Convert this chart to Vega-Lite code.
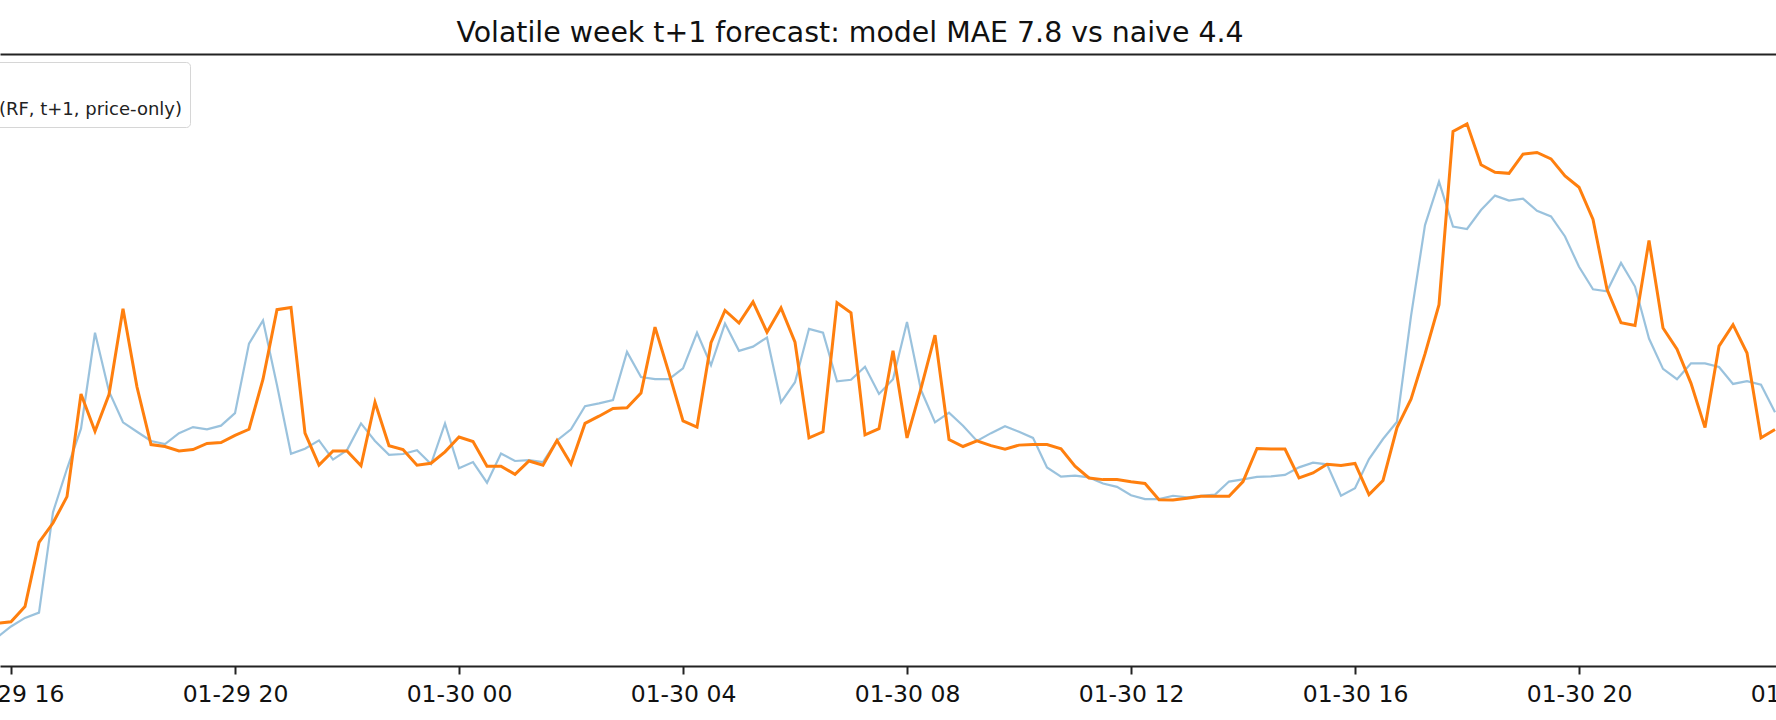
{
  "$schema": "https://vega.github.io/schema/vega-lite/v6.json",
  "autosize": {"type": "none"},
  "width": 1900,
  "height": 612,
  "padding": {"left": 0, "top": 54, "right": 0, "bottom": 54},
  "title": {
    "text": "Volatile week t+1 forecast: model MAE 7.8 vs naive 4.4",
    "font": "DejaVu Sans",
    "fontSize": 28.4,
    "fontWeight": "normal",
    "color": "#111111",
    "anchor": "middle",
    "dx": -100,
    "offset": 6
  },
  "config": {
    "view": {"stroke": null},
    "font": "DejaVu Sans"
  },
  "data": {
    "values": [
      {"t": "2024-01-29T15:45", "actual": 10.3, "forecast": 15.3},
      {"t": "2024-01-29T16:00", "actual": 14.2, "forecast": 15.9},
      {"t": "2024-01-29T16:15", "actual": 17.3, "forecast": 21.4},
      {"t": "2024-01-29T16:30", "actual": 19.2, "forecast": 44.4},
      {"t": "2024-01-29T16:45", "actual": 55.3, "forecast": 51.4},
      {"t": "2024-01-29T17:00", "actual": 70.9, "forecast": 60.9},
      {"t": "2024-01-29T17:15", "actual": 85.3, "forecast": 97.8},
      {"t": "2024-01-29T17:30", "actual": 119.8, "forecast": 84.4},
      {"t": "2024-01-29T17:45", "actual": 98.7, "forecast": 97.6},
      {"t": "2024-01-29T18:00", "actual": 87.6, "forecast": 128.4},
      {"t": "2024-01-29T18:15", "actual": 84.2, "forecast": 100.3},
      {"t": "2024-01-29T18:30", "actual": 80.9, "forecast": 79.6},
      {"t": "2024-01-29T18:45", "actual": 79.8, "forecast": 78.9},
      {"t": "2024-01-29T19:00", "actual": 83.7, "forecast": 77.3},
      {"t": "2024-01-29T19:15", "actual": 85.9, "forecast": 77.8},
      {"t": "2024-01-29T19:30", "actual": 85.1, "forecast": 80.0},
      {"t": "2024-01-29T19:45", "actual": 86.4, "forecast": 80.3},
      {"t": "2024-01-29T20:00", "actual": 90.9, "forecast": 82.9},
      {"t": "2024-01-29T20:15", "actual": 115.9, "forecast": 85.1},
      {"t": "2024-01-29T20:30", "actual": 124.2, "forecast": 103.1},
      {"t": "2024-01-29T20:45", "actual": 100.9, "forecast": 128.1},
      {"t": "2024-01-29T21:00", "actual": 76.3, "forecast": 128.9},
      {"t": "2024-01-29T21:15", "actual": 78.1, "forecast": 83.7},
      {"t": "2024-01-29T21:30", "actual": 81.1, "forecast": 72.2},
      {"t": "2024-01-29T21:45", "actual": 74.2, "forecast": 77.3},
      {"t": "2024-01-29T22:00", "actual": 77.6, "forecast": 77.3},
      {"t": "2024-01-29T22:15", "actual": 87.2, "forecast": 72.0},
      {"t": "2024-01-29T22:30", "actual": 80.9, "forecast": 94.8},
      {"t": "2024-01-29T22:45", "actual": 75.9, "forecast": 79.2},
      {"t": "2024-01-29T23:00", "actual": 76.2, "forecast": 77.8},
      {"t": "2024-01-29T23:15", "actual": 77.6, "forecast": 72.2},
      {"t": "2024-01-29T23:30", "actual": 72.6, "forecast": 72.9},
      {"t": "2024-01-29T23:45", "actual": 87.2, "forecast": 77.0},
      {"t": "2024-01-30T00:00", "actual": 71.1, "forecast": 82.3},
      {"t": "2024-01-30T00:15", "actual": 73.3, "forecast": 80.7},
      {"t": "2024-01-30T00:30", "actual": 65.9, "forecast": 71.8},
      {"t": "2024-01-30T00:45", "actual": 76.4, "forecast": 71.8},
      {"t": "2024-01-30T01:00", "actual": 73.7, "forecast": 68.9},
      {"t": "2024-01-30T01:15", "actual": 74.0, "forecast": 73.7},
      {"t": "2024-01-30T01:30", "actual": 73.3, "forecast": 72.2},
      {"t": "2024-01-30T01:45", "actual": 81.1, "forecast": 81.1},
      {"t": "2024-01-30T02:00", "actual": 85.1, "forecast": 72.6},
      {"t": "2024-01-30T02:15", "actual": 93.4, "forecast": 87.2},
      {"t": "2024-01-30T02:30", "actual": 94.4, "forecast": 89.8},
      {"t": "2024-01-30T02:45", "actual": 95.6, "forecast": 92.6},
      {"t": "2024-01-30T03:00", "actual": 112.9, "forecast": 92.8},
      {"t": "2024-01-30T03:15", "actual": 103.9, "forecast": 98.1},
      {"t": "2024-01-30T03:30", "actual": 103.1, "forecast": 121.8},
      {"t": "2024-01-30T03:45", "actual": 103.1, "forecast": 105.3},
      {"t": "2024-01-30T04:00", "actual": 107.0, "forecast": 88.1},
      {"t": "2024-01-30T04:15", "actual": 119.8, "forecast": 85.9},
      {"t": "2024-01-30T04:30", "actual": 108.1, "forecast": 116.2},
      {"t": "2024-01-30T04:45", "actual": 123.1, "forecast": 127.8},
      {"t": "2024-01-30T05:00", "actual": 113.3, "forecast": 123.3},
      {"t": "2024-01-30T05:15", "actual": 114.8, "forecast": 130.9},
      {"t": "2024-01-30T05:30", "actual": 118.1, "forecast": 120.0},
      {"t": "2024-01-30T05:45", "actual": 94.8, "forecast": 128.7},
      {"t": "2024-01-30T06:00", "actual": 102.0, "forecast": 116.4},
      {"t": "2024-01-30T06:15", "actual": 121.2, "forecast": 82.0},
      {"t": "2024-01-30T06:30", "actual": 119.8, "forecast": 84.2},
      {"t": "2024-01-30T06:45", "actual": 102.3, "forecast": 130.6},
      {"t": "2024-01-30T07:00", "actual": 102.9, "forecast": 127.0},
      {"t": "2024-01-30T07:15", "actual": 107.6, "forecast": 83.1},
      {"t": "2024-01-30T07:30", "actual": 97.8, "forecast": 85.3},
      {"t": "2024-01-30T07:45", "actual": 103.1, "forecast": 113.3},
      {"t": "2024-01-30T08:00", "actual": 123.7, "forecast": 82.0},
      {"t": "2024-01-30T08:15", "actual": 99.2, "forecast": 99.8},
      {"t": "2024-01-30T08:30", "actual": 87.6, "forecast": 118.9},
      {"t": "2024-01-30T08:45", "actual": 91.1, "forecast": 81.4},
      {"t": "2024-01-30T09:00", "actual": 86.4, "forecast": 78.9},
      {"t": "2024-01-30T09:15", "actual": 80.9, "forecast": 80.9},
      {"t": "2024-01-30T09:30", "actual": 83.7, "forecast": 79.2},
      {"t": "2024-01-30T09:45", "actual": 86.2, "forecast": 77.9},
      {"t": "2024-01-30T10:00", "actual": 84.2, "forecast": 79.4},
      {"t": "2024-01-30T10:15", "actual": 82.0, "forecast": 79.6},
      {"t": "2024-01-30T10:30", "actual": 71.4, "forecast": 79.6},
      {"t": "2024-01-30T10:45", "actual": 68.1, "forecast": 78.1},
      {"t": "2024-01-30T11:00", "actual": 68.4, "forecast": 71.8},
      {"t": "2024-01-30T11:15", "actual": 67.8, "forecast": 67.6},
      {"t": "2024-01-30T11:30", "actual": 65.6, "forecast": 67.0},
      {"t": "2024-01-30T11:45", "actual": 64.4, "forecast": 67.0},
      {"t": "2024-01-30T12:00", "actual": 61.4, "forecast": 66.2},
      {"t": "2024-01-30T12:15", "actual": 60.0, "forecast": 65.6},
      {"t": "2024-01-30T12:30", "actual": 60.0, "forecast": 59.8},
      {"t": "2024-01-30T12:45", "actual": 61.2, "forecast": 59.7},
      {"t": "2024-01-30T13:00", "actual": 60.6, "forecast": 60.3},
      {"t": "2024-01-30T13:15", "actual": 61.2, "forecast": 61.0},
      {"t": "2024-01-30T13:30", "actual": 61.6, "forecast": 61.0},
      {"t": "2024-01-30T13:45", "actual": 66.3, "forecast": 61.0},
      {"t": "2024-01-30T14:00", "actual": 67.1, "forecast": 66.3},
      {"t": "2024-01-30T14:15", "actual": 68.0, "forecast": 78.2},
      {"t": "2024-01-30T14:30", "actual": 68.2, "forecast": 78.0},
      {"t": "2024-01-30T14:45", "actual": 68.7, "forecast": 78.0},
      {"t": "2024-01-30T15:00", "actual": 71.4, "forecast": 67.6},
      {"t": "2024-01-30T15:15", "actual": 73.1, "forecast": 69.4},
      {"t": "2024-01-30T15:30", "actual": 72.5, "forecast": 72.5},
      {"t": "2024-01-30T15:45", "actual": 61.2, "forecast": 72.1},
      {"t": "2024-01-30T16:00", "actual": 63.9, "forecast": 72.8},
      {"t": "2024-01-30T16:15", "actual": 74.4, "forecast": 61.6},
      {"t": "2024-01-30T16:30", "actual": 81.6, "forecast": 66.7},
      {"t": "2024-01-30T16:45", "actual": 87.8, "forecast": 85.7},
      {"t": "2024-01-30T17:00", "actual": 125.8, "forecast": 95.9},
      {"t": "2024-01-30T17:15", "actual": 158.5, "forecast": 112.2},
      {"t": "2024-01-30T17:30", "actual": 174.1, "forecast": 129.9},
      {"t": "2024-01-30T17:45", "actual": 158.0, "forecast": 192.2},
      {"t": "2024-01-30T18:00", "actual": 157.1, "forecast": 194.9},
      {"t": "2024-01-30T18:15", "actual": 163.9, "forecast": 180.2},
      {"t": "2024-01-30T18:30", "actual": 169.1, "forecast": 177.5},
      {"t": "2024-01-30T18:45", "actual": 167.3, "forecast": 177.1},
      {"t": "2024-01-30T19:00", "actual": 168.0, "forecast": 184.0},
      {"t": "2024-01-30T19:15", "actual": 163.6, "forecast": 184.6},
      {"t": "2024-01-30T19:30", "actual": 161.6, "forecast": 182.3},
      {"t": "2024-01-30T19:45", "actual": 154.4, "forecast": 176.2},
      {"t": "2024-01-30T20:00", "actual": 143.5, "forecast": 172.1},
      {"t": "2024-01-30T20:15", "actual": 135.4, "forecast": 160.5},
      {"t": "2024-01-30T20:30", "actual": 134.7, "forecast": 135.4},
      {"t": "2024-01-30T20:45", "actual": 144.9, "forecast": 123.4},
      {"t": "2024-01-30T21:00", "actual": 136.4, "forecast": 122.4},
      {"t": "2024-01-30T21:15", "actual": 117.7, "forecast": 153.0},
      {"t": "2024-01-30T21:30", "actual": 106.8, "forecast": 121.5},
      {"t": "2024-01-30T21:45", "actual": 103.1, "forecast": 113.9},
      {"t": "2024-01-30T22:00", "actual": 108.8, "forecast": 101.6},
      {"t": "2024-01-30T22:15", "actual": 108.8, "forecast": 85.7},
      {"t": "2024-01-30T22:30", "actual": 107.5, "forecast": 115.0},
      {"t": "2024-01-30T22:45", "actual": 101.4, "forecast": 122.7},
      {"t": "2024-01-30T23:00", "actual": 102.4, "forecast": 112.5},
      {"t": "2024-01-30T23:15", "actual": 101.1, "forecast": 82.0},
      {"t": "2024-01-30T23:30", "actual": 91.2, "forecast": 85.0}
    ]
  },
  "layer": [
    {
      "mark": {"type": "line", "clip": true, "color": "#1f77b4", "opacity": 0.45, "strokeWidth": 2.2},
      "encoding": {
        "x": {
          "field": "t",
          "type": "temporal",
          "scale": {"domain": [{"year": 2024, "month": 1, "date": 29, "hours": 15, "minutes": 48, "seconds": 13}, {"year": 2024, "month": 1, "date": 31, "hours": 1, "minutes": 43, "seconds": 55}]},
          "axis": {
            "orient": "bottom",
            "title": null,
            "format": "%m-%d %H",
            "grid": false,
            "values": [
              {"year": 2024, "month": 1, "date": 29, "hours": 16},
              {"year": 2024, "month": 1, "date": 29, "hours": 20},
              {"year": 2024, "month": 1, "date": 30, "hours": 0},
              {"year": 2024, "month": 1, "date": 30, "hours": 4},
              {"year": 2024, "month": 1, "date": 30, "hours": 8},
              {"year": 2024, "month": 1, "date": 30, "hours": 12},
              {"year": 2024, "month": 1, "date": 30, "hours": 16},
              {"year": 2024, "month": 1, "date": 30, "hours": 20},
              {"year": 2024, "month": 1, "date": 31, "hours": 0}
            ],
            "labelFont": "DejaVu Sans",
            "labelFontSize": 23.5,
            "labelColor": "#111111",
            "labelPadding": 8,
            "tickSize": 8,
            "tickWidth": 2,
            "tickColor": "#222222",
            "domainColor": "#222222",
            "domainWidth": 2
          }
        },
        "y": {"field": "actual", "type": "quantitative", "scale": {"domain": [0, 204]}, "axis": null},
        "color": {
          "datum": "Actual",
          "type": "nominal",
          "scale": {
            "domain": ["Actual", "Forecast (RF, t+1, price-only)"],
            "range": ["#1f77b4", "#ff7f0e"]
          },
          "legend": {
            "title": null,
            "orient": "none",
            "legendX": -123,
            "legendY": 8,
            "symbolType": "stroke",
            "symbolStrokeWidth": 3,
            "labelFont": "DejaVu Sans",
            "labelFontSize": 18,
            "labelColor": "#222222",
            "labelOffset": 14,
            "labelLimit": 400,
            "rowPadding": 13,
            "padding": 8,
            "fillColor": "white",
            "strokeColor": "#d6d6d6",
            "cornerRadius": 4
          }
        }
      }
    },
    {
      "mark": {"type": "line", "clip": true, "color": "#ff7f0e", "strokeWidth": 3},
      "encoding": {
        "x": {
          "field": "t",
          "type": "temporal",
          "axis": {"orient": "top", "title": null, "labels": false, "ticks": false, "grid": false, "domainColor": "#222222", "domainWidth": 2}
        },
        "y": {"field": "forecast", "type": "quantitative", "axis": null},
        "color": {"datum": "Forecast (RF, t+1, price-only)", "type": "nominal"}
      }
    }
  ],
  "resolve": {"axis": {"x": "independent"}}
}
